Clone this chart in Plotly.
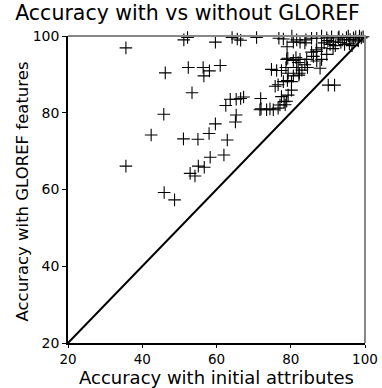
import plotly.graph_objects as go

acc_initial = [35.6, 51.2, 52.2, 59.7, 46.2, 52.4, 56.4, 58.1, 56.6, 53.4, 45.8, 59.7, 42.4, 51.1, 55.0,
               58.0, 58.3, 55.1, 56.7, 52.9, 54.2, 35.6, 45.9, 48.7, 62.0, 62.9, 65.3, 65.1, 62.5, 63.7,
               65.3, 66.5, 67.3, 71.9, 72.0, 74.4, 76.6, 77.1, 78.2, 61.0, 64.2, 65.6, 66.5, 70.8, 74.8,
               76.2, 75.8, 76.6, 78.0, 79.1, 80.2, 80.7, 82.2, 79.3, 82.3, 77.5, 78.7, 81.6, 84.5, 87.9,
               83.0, 80.2, 79.3, 77.5, 78.9, 71.7, 73.5, 75.3, 90.1, 91.8, 82.0, 83.8, 78.9, 80.7, 82.5,
               84.3, 86.1, 87.0, 88.3, 89.7, 85.6, 87.0, 88.3, 90.6, 91.4, 80.7, 82.5, 83.8, 79.0, 76.8,
               78.0, 80.3, 81.6, 84.1, 85.6, 87.0, 88.3, 89.7, 91.0, 92.8, 94.0, 95.0, 96.0, 96.9, 98.2,
               97.5, 99.0, 93.5, 92.0, 94.5, 79.2, 81.4, 78.5, 86.9, 90.0, 95.8, 93.0, 95.5, 97.0, 98.5,
               99.5, 91.5, 89.0, 96.5]
acc_gloref = [96.9, 99.0, 99.6, 98.4, 90.4, 91.8, 91.8, 90.9, 89.6, 85.2, 79.6, 77.1, 74.2, 73.2, 73.1,
              74.6, 68.4, 66.1, 65.8, 64.2, 63.5, 66.1, 59.2, 57.3, 69.0, 72.9, 79.4, 77.6, 81.9, 83.5,
              83.5, 83.7, 84.1, 83.7, 81.0, 81.0, 81.2, 82.0, 82.9, 92.3, 99.6, 99.2, 98.9, 99.6, 91.3,
              91.0, 86.9, 87.3, 88.1, 88.4, 88.1, 89.6, 89.8, 90.3, 90.3, 91.0, 91.8, 91.8, 91.8, 91.6,
              91.1, 85.9, 84.6, 84.2, 83.0, 80.8, 80.8, 80.8, 87.2, 87.2, 93.1, 92.5, 93.9, 93.6, 93.9,
              93.9, 94.7, 93.5, 93.9, 95.2, 95.8, 96.0, 96.9, 97.8, 96.7, 98.4, 98.4, 98.2, 97.2, 99.4,
              99.2, 100.0, 99.0, 99.0, 99.4, 99.4, 100.0, 99.5, 99.8, 99.5, 99.0, 99.6, 99.1, 99.5, 98.7,
              99.8, 99.5, 98.3, 97.5, 97.8, 94.2, 94.4, 82.1, 96.4, 98.8, 98.0, 99.8, 100.0, 99.0, 100.0,
              99.8, 98.5, 98.2, 97.5]

diag = [20, 100]
x_ticks = [20, 40, 60, 80, 100]
y_ticks = [20, 40, 60, 80, 100]

title_text = "Accuracy with vs without GLOREF"
x_title = "Accuracy with initial attributes"
y_title = "Accuracy with GLOREF features"

ff = "DejaVu Sans, Liberation Sans, sans-serif"

fig = go.Figure()
fig.add_trace(go.Scatter(x=diag, y=diag, mode="lines",
                         line=dict(color="black", width=2), hoverinfo="skip", cliponaxis=False))
fig.add_trace(go.Scatter(x=acc_initial, y=acc_gloref, mode="markers", cliponaxis=False,
                         marker=dict(symbol="cross-thin", size=9,
                                     line=dict(width=1.1, color="black"), color="black")))

fig.update_layout(
    width=382, height=388,
    margin=dict(l=68, r=17, t=36, b=45, autoexpand=False),
    paper_bgcolor="white", plot_bgcolor="white",
    showlegend=False,
    font=dict(family=ff, color="black"),
    title=dict(text=title_text, x=0.491, xanchor="center", xref="container",
               y=0.986, yanchor="top", yref="container",
               font=dict(size=20.5, family=ff, color="black")),
    shapes=[
        dict(type="line", xref="paper", yref="paper", x0=0, x1=1, y0=1, y1=1,
             line=dict(color="#888888", width=2)),
        dict(type="line", xref="paper", yref="paper", x0=1, x1=1, y0=0, y1=1,
             line=dict(color="#888888", width=2)),
    ],
    annotations=[
        dict(text=x_title, xref="paper", yref="paper", x=0.5, y=0, xanchor="center",
             yanchor="bottom", yshift=-46, showarrow=False, borderpad=0,
             font=dict(size=18, family=ff, color="black")),
        dict(text=y_title, xref="paper", yref="paper", x=0, y=0.5, xanchor="center",
             yanchor="middle", xshift=-46, yshift=-2, textangle=-90, showarrow=False,
             font=dict(size=16.5, family=ff, color="black")),
    ],
)
fig.update_xaxes(range=[20, 100], tickvals=x_ticks, ticks="outside", ticklen=3, tickwidth=1,
                 tickcolor="black", showline=True, linecolor="black", linewidth=1.5,
                 showgrid=False, zeroline=False, automargin=False,
                 tickfont=dict(size=13.5, family=ff, color="black"))
fig.update_yaxes(range=[20, 100], tickvals=y_ticks, ticks="outside", ticklen=4, tickwidth=1,
                 tickcolor="black", showline=True, linecolor="black", linewidth=1.5,
                 showgrid=False, zeroline=False, automargin=False,
                 tickfont=dict(size=14, family=ff, color="black"))

fig.write_html("out.html")
